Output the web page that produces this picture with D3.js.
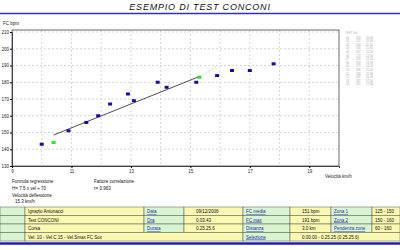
<!DOCTYPE html>
<html>
<head>
<meta charset="utf-8">
<script src="https://cdn.jsdelivr.net/npm/d3@7"></script>
<style>
  body { margin: 0; background: #fff; }
  text { font-family: "Liberation Sans", Arial, sans-serif; }
</style>
</head>
<body>
<div id="chart"></div>
<script>
// test points (speed km/h, heart rate bpm)
let speed = [10.0, 10.9, 11.5, 11.9, 12.3, 12.9, 13.1, 13.9, 14.2, 15.2, 15.9, 16.4, 17.0, 17.8];
let hr = [143, 151, 156, 160, 167, 173, 169, 180, 177, 180, 184, 187, 187, 191];

// green markers: start of regression and deflection point
let markSpeed = [10.4, 15.3];
let markHr = [144, 183];

// regression line and the dashed stretch after deflection
let regSpeed = [10.4, 15.3];
let regHr = [148.5, 183.4];
let extSpeed = [15.3, 15.9];
let extHr = [183.4, 189.8];

let xTicks = [9, 11, 13, 15, 17, 19];
let yTicks = [130, 140, 150, 160, 170, 180, 190, 200, 210];

let notesLeft = ["Formula regressione", "H= 7.5 x vel + 70", "Velocità deflessione", "15.3 km/h"];
let notesRight = ["Fattore correlazione", "r= 0.963"];

// info table below the chart
let rowsInfo = [
    ["", "Ignazio Antonacci", "Data", "09/12/2006", "FC media", "151 bpm", "Zona 1", "125 - 150"],
    ["", "Test CONCONI", "Ora", "0.03.43", "FC max", "191 bpm", "Zona 2", "150 - 160"],
    ["", "Corsa", "Durata", "0.25.25.6", "Distanza", "3.0 km", "Pendenza zone", "60 - 160"],
    ["", "Vel. 10 - Vel.C 15 - Vel.Smax       FC Sox", "", "", "Selezione", "0.00.00 - 0.25.25 (0.25.25.6)", "", ""]
];

let width = 400;
let height = 250;

let svg = d3.select('#chart').append('svg')
            .attr('width', width)
            .attr('height', height);

// title
svg.append('text')
    .attr('x', 200).attr('y', 10)
    .attr('text-anchor', 'middle')
    .attr('font-size', 9)
    .attr('font-style', 'italic')
    .attr('letter-spacing', 0.8)
    .attr('fill', '#111')
    .text("ESEMPIO DI TEST CONCONI");

svg.append('line')
    .attr('x1', 0).attr('x2', 400).attr('y1', 13.5).attr('y2', 13.5)
    .attr('stroke', '#3030c0').attr('stroke-width', 1.5);

let x = d3.scaleLinear().domain([9, 20]).range([12, 339]);
let y = d3.scaleLinear().domain([130, 210]).range([166, 32]);

// grid
svg.append('g').selectAll('line')
    .data(d3.range(10, 20))
    .join('line')
    .attr('x1', d => x(d)).attr('x2', d => x(d))
    .attr('y1', 30).attr('y2', 166)
    .attr('stroke', '#bbb').attr('stroke-width', 0.6)
    .attr('stroke-dasharray', '2,2');

svg.append('g').selectAll('line')
    .data(yTicks.slice(1))
    .join('line')
    .attr('x1', 12).attr('x2', 339)
    .attr('y1', d => y(d)).attr('y2', d => y(d))
    .attr('stroke', '#bbb').attr('stroke-width', 0.6)
    .attr('stroke-dasharray', '2,2');

// plot frame
svg.append('rect')
    .attr('x', 12).attr('y', 30).attr('width', 327).attr('height', 136)
    .attr('fill', 'none').attr('stroke', '#444').attr('stroke-width', 0.8);

// axes
let yAxis = d3.axisLeft(y).tickValues(yTicks).tickSize(2).tickPadding(1);
let gy = svg.append('g').attr('transform', 'translate(12,0)').call(yAxis);
gy.select('.domain').attr('stroke', '#444');
gy.selectAll('text').attr('font-size', 4.5).attr('fill', '#222');

let xAxis = d3.axisBottom(x).tickValues(xTicks).tickSize(2).tickPadding(2);
let gx = svg.append('g').attr('transform', 'translate(0,166)').call(xAxis);
gx.select('.domain').attr('stroke', '#444');
gx.selectAll('text').attr('font-size', 4.5).attr('fill', '#222');

svg.append('text').attr('x', 3).attr('y', 25)
    .attr('font-size', 4.5).attr('fill', '#222').text("FC bpm");
svg.append('text').attr('x', 325).attr('y', 178)
    .attr('font-size', 4.5).attr('fill', '#222').text("Velocità km/h");

// regression line
let line = d3.line().x(d => x(d[0])).y(d => y(d[1]));
svg.append('path')
    .attr('d', line(d3.zip(regSpeed, regHr)))
    .attr('fill', 'none').attr('stroke', '#222').attr('stroke-width', 0.8);
svg.append('path')
    .attr('d', line(d3.zip(extSpeed, extHr)))
    .attr('fill', 'none').attr('stroke', '#99ee88').attr('stroke-width', 0.8)
    .attr('stroke-dasharray', '2,1.5');

// points
svg.append('g').selectAll('rect')
    .data(d3.zip(speed, hr))
    .join('rect')
    .attr('x', d => x(d[0]) - 2).attr('y', d => y(d[1]) - 1.5)
    .attr('width', 4).attr('height', 3)
    .attr('fill', '#10109a');

svg.append('g').selectAll('rect')
    .data(d3.zip(markSpeed, markHr))
    .join('rect')
    .attr('x', d => x(d[0]) - 2).attr('y', d => y(d[1]) - 1.5)
    .attr('width', 4).attr('height', 3)
    .attr('fill', '#33dd33');

// side list of values
let side = svg.append('g').attr('font-size', 2.8).attr('fill', '#aaa');
side.append('text').attr('x', 346).attr('y', 34).text("N    FC    Vel");
let allPts = d3.zip(speed, hr);
allPts.forEach((d, i) => {
    let yy = 38.5 + i * 3.6;
    side.append('text').attr('x', 346).attr('y', yy).text(d3.format('02d')(i + 1));
    side.append('text').attr('x', 356).attr('y', yy).text(d[1]);
    side.append('text').attr('x', 366).attr('y', yy).text(d[0].toFixed(2));
});

// notes under the chart
let notes = svg.append('g').attr('font-size', 4.5).attr('fill', '#111');
notesLeft.forEach((t, i) => {
    notes.append('text').attr('x', i == 3 ? 15 : 12).attr('y', 183 + i * 6.8).text(t);
});
notesRight.forEach((t, i) => {
    notes.append('text').attr('x', 94).attr('y', 183 + i * 6.8).text(t);
});

// bottom table
let colX = [0, 25, 144, 184, 243, 290, 331, 372, 400];
let colFill = ['#d8f5d0', '#fbf8b0', '#d8f5d0', '#fbf8b0', '#d8f5d0', '#fbf8b0', '#d8f5d0', '#fbf8b0'];
let rowTop = 207;
let rowH = 8.5;
let tbl = svg.append('g');

rowsInfo.forEach((row, r) => {
    let yy = rowTop + r * rowH;
    let cells = [];
    if (r == 3) {
        cells = [[0, 1], [1, 4], [4, 5], [5, 8]];
    } else {
        cells = d3.range(8).map(c => [c, c + 1]);
    }
    cells.forEach(cs => {
        let c = cs[0];
        tbl.append('rect')
            .attr('x', colX[c]).attr('y', yy)
            .attr('width', colX[cs[1]] - colX[c]).attr('height', rowH)
            .attr('fill', colFill[c]).attr('stroke', '#555').attr('stroke-width', 0.5);
        let label = row[c];
        let blue = (c % 2 == 0);
        tbl.append('text')
            .attr('x', colX[c] + (c == 3 || c == 5 ? 12 : 3)).attr('y', yy + 6)
            .attr('font-size', 4.5)
            .attr('fill', blue ? '#1a2fb0' : '#111')
            .attr('text-decoration', (blue && label != "") ? 'underline' : null)
            .text(label);
    });
});

svg.append('line')
    .attr('x1', 0).attr('x2', 400).attr('y1', 243.5).attr('y2', 243.5)
    .attr('stroke', '#2020b0').attr('stroke-width', 2.5);
</script>
</body>
</html>
